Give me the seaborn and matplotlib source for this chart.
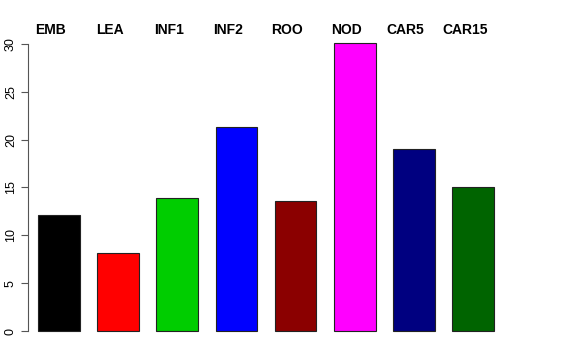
import pandas as pd
import seaborn as sns
import matplotlib.pyplot as plt

# Values
samples = ['EMB', 'LEA', 'INF1', 'INF2', 'ROO', 'NOD', 'CAR5', 'CAR15']
values = [12.1, 8.15, 13.95, 21.35, 13.6, 30.1, 19.05, 15.1]
colors = ['#000000', '#FF0000', '#00CD00', '#0000FF', '#8B0000', '#FF00FF', '#000080', '#006400']

df = pd.DataFrame({'sample': samples, 'value': values})

sns.set_style('white')
plt.rcParams['font.family'] = ['Liberation Sans', 'DejaVu Sans']
plt.rcParams['text.color'] = 'black'
plt.rcParams['ytick.color'] = 'black'

fig = plt.figure(figsize=(5.76, 3.6), dpi=100)
ax = fig.add_axes([28 / 576, 17.5 / 360, 476 / 576, 311 / 360])

sns.barplot(data=df, x='sample', y='value', hue='sample', palette=colors,
            width=0.7, legend=False, ax=ax, edgecolor='#222222', linewidth=0.8,
            saturation=1)

ax.set_xlim(-0.52, 7.52)
ax.set_ylim(-1.2, 31.3)
ax.set_xlabel('')
ax.set_ylabel('')
ax.set_xticks([])
ax.set_yticks([0, 5, 10, 15, 20, 25, 30])
ax.set_yticklabels(['0', '5', '10', '15', '20', '25', '30'], rotation=90, va='center', fontsize=9)
ax.tick_params(axis='y', length=5, width=0.8, color='#555555', labelcolor='black', pad=3, left=True)

for side in ['top', 'right', 'bottom']:
    ax.spines[side].set_visible(False)
ax.spines['left'].set_bounds(0, 30)
ax.spines['left'].set_color('#555555')
ax.spines['left'].set_linewidth(0.8)

# Sample names across the top
for i, name in enumerate(samples):
    ax.text(i - 0.14, 31.5, name, ha='center', va='center', fontsize=10,
            fontweight='bold', color='black', clip_on=False)

fig.savefig('out.png', dpi=100)
